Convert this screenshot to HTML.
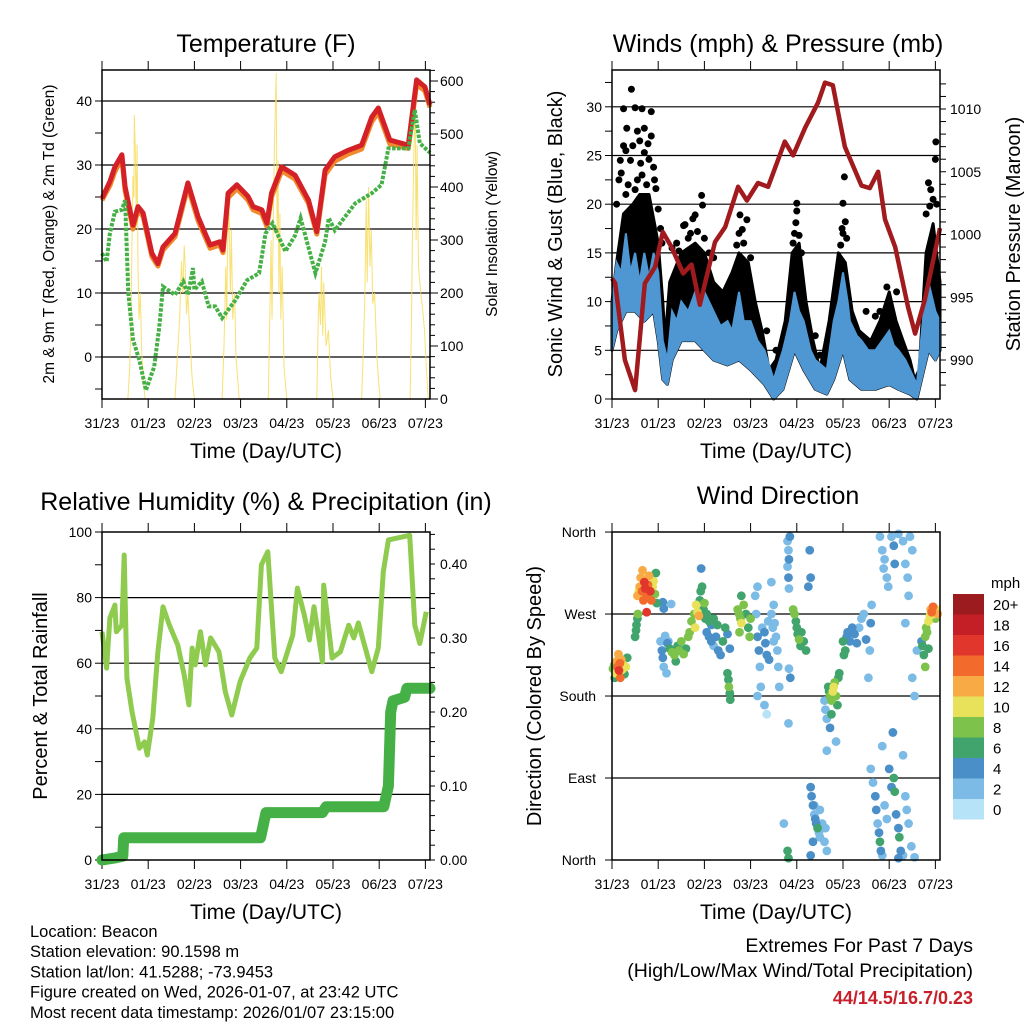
<!DOCTYPE html>
<html><head><meta charset="utf-8"><style>
html,body{margin:0;padding:0;background:#fff;}
svg{display:block;font-family:"Liberation Sans",sans-serif;}
</style></head><body>
<svg id="root" width="1024" height="1024" viewBox="0 0 1024 1024" xmlns="http://www.w3.org/2000/svg"></svg>
<script>
// ---------- DATA ----------
const dayTickLabels = ["31/23","01/23","02/23","03/23","04/23","05/23","06/23","07/23"];
// Temperature panel
const temp2m = [[0,24.8],[0.17,27.4],[0.28,29.7],[0.43,31.6],[0.5,26.6],[0.67,20.6],[0.78,23.5],[0.89,22.5],[1.08,16.2],[1.21,14.6],[1.32,17.2],[1.58,19.3],[1.86,27.2],[2.08,21.9],[2.34,17.5],[2.55,18.0],[2.62,16.7],[2.73,25.6],[2.92,26.9],[3.16,25.1],[3.27,23.5],[3.46,23.0],[3.57,20.9],[3.67,25.6],[3.89,29.7],[4.18,28.4],[4.47,24.5],[4.65,19.6],[4.83,29.2],[5.04,31.3],[5.33,32.3],[5.62,33.1],[5.84,37.5],[5.98,38.9],[6.23,33.9],[6.63,33.1],[6.81,43.3],[6.99,42.2],[7.1,39.4]];
const temp9m = [[0,24.5],[0.17,26.8],[0.28,29.0],[0.43,31.0],[0.5,26.0],[0.67,20.0],[0.78,22.9],[0.89,22.0],[1.08,15.7],[1.21,14.2],[1.32,16.7],[1.58,18.8],[1.86,26.6],[2.08,21.3],[2.34,17.0],[2.55,17.5],[2.62,16.3],[2.73,24.9],[2.92,26.3],[3.16,24.5],[3.27,23.0],[3.46,22.4],[3.57,20.4],[3.67,25.0],[3.89,29.1],[4.18,27.8],[4.47,24.0],[4.65,19.2],[4.83,28.5],[5.04,30.6],[5.33,31.7],[5.62,32.5],[5.84,36.8],[5.98,38.2],[6.23,33.3],[6.63,32.6],[6.81,42.6],[6.99,41.6],[7.1,39.0]];
const dewpoint = [[0,16.2],[0.1,14.9],[0.17,19.3],[0.28,22.7],[0.43,23.0],[0.5,24.5],[0.57,10],[0.67,2.7],[0.81,-0.5],[0.95,-5.2],[1.13,-1.5],[1.24,4.7],[1.32,11],[1.58,9.7],[1.76,11.8],[1.86,9.7],[1.97,13.9],[2.0,10.5],[2.16,11.8],[2.31,7.9],[2.45,7.9],[2.6,6.1],[2.89,8.9],[3.14,12],[3.4,13.1],[3.54,19.3],[3.69,20.9],[3.97,16.5],[4.18,19],[4.3,21.7],[4.62,13.1],[4.83,18],[4.91,21.7],[5.04,19.8],[5.48,24],[5.84,25.6],[6.05,26.9],[6.2,32.6],[6.63,32.6],[6.77,38.6],[6.88,33.4],[7.1,31.9]];
const solar = [[0,0],[0.56,0],[0.6,60],[0.63,150],[0.65,300],[0.67,420],[0.69,380],[0.7,536],[0.72,470],[0.74,350],[0.76,480],[0.78,250],[0.8,150],[0.83,200],[0.86,90],[0.9,30],[0.93,0],[1.58,0],[1.62,60],[1.68,150],[1.72,260],[1.75,200],[1.78,290],[1.8,250],[1.83,160],[1.86,200],[1.9,120],[1.95,40],[2.0,0],[2.6,0],[2.64,100],[2.68,250],[2.7,150],[2.72,300],[2.75,360],[2.78,200],[2.8,320],[2.83,150],[2.87,200],[2.9,80],[2.97,0],[3.6,0],[3.64,200],[3.66,300],[3.68,150],[3.72,420],[3.74,510],[3.77,615],[3.79,300],[3.81,450],[3.83,200],[3.85,350],[3.87,150],[3.9,250],[3.94,60],[4.0,0],[4.65,0],[4.68,150],[4.7,200],[4.73,140],[4.75,250],[4.78,120],[4.8,220],[4.85,100],[4.9,130],[4.95,40],[5.0,0],[5.62,0],[5.66,100],[5.69,200],[5.72,380],[5.74,220],[5.77,400],[5.8,250],[5.83,320],[5.86,180],[5.9,200],[5.95,80],[5.99,30],[6.02,0],[6.67,0],[6.7,150],[6.72,300],[6.75,460],[6.78,560],[6.8,300],[6.82,480],[6.85,250],[6.9,200],[6.94,170],[6.98,130],[7.02,60],[7.06,0],[7.1,0]];
// Wind panel
const pressure = [[0,996.5],[0.07,996.1],[0.28,990],[0.5,987.6],[0.71,996.1],[0.93,997.4],[1.1,1000.2],[1.29,999],[1.54,996.9],[1.72,997.6],[1.9,994.4],[2.23,999.4],[2.45,1000.6],[2.73,1003.8],[2.92,1002.7],[3.16,1004.1],[3.38,1003.8],[3.74,1007.4],[3.92,1006.3],[4.18,1008.5],[4.46,1010.5],[4.61,1012.1],[4.78,1011.9],[5.04,1007],[5.4,1003.9],[5.58,1003.7],[5.76,1005],[5.91,1001.2],[6.13,999],[6.41,994.2],[6.56,992.1],[6.77,994.8],[7.1,1000.5]];
const windUpper = [[0,10],[0.05,12],[0.1,14],[0.2,13],[0.3,17],[0.4,13],[0.5,15],[0.6,12],[0.7,15],[0.8,12.5],[0.9,15],[1.0,13],[1.1,6],[1.2,4],[1.3,9],[1.4,8],[1.5,10],[1.65,9],[1.8,11],[1.9,9.5],[2.0,11],[2.2,9],[2.35,7.5],[2.5,8],[2.6,7],[2.75,11],[2.85,8],[3.0,8],[3.15,6],[3.3,5],[3.5,2],[3.7,5],[3.85,8],[3.95,11],[4.05,9],[4.15,8],[4.3,5],[4.4,4],[4.65,3],[4.8,8],[4.9,10],[5.0,13],[5.1,10],[5.15,8],[5.3,6.5],[5.4,6],[5.55,5],[5.7,5],[5.85,6],[6.0,7],[6.1,5.5],[6.2,5],[6.35,4],[6.45,3],[6.6,1.5],[6.75,9],[6.85,12],[6.95,10],[7.0,9],[7.1,8]];
const windLower = [[0,5],[0.1,7],[0.3,9],[0.5,9],[0.7,8],[0.9,9],[1.0,6],[1.1,2],[1.2,1.5],[1.3,4],[1.5,6],[1.8,6],[2.0,5],[2.2,4],[2.5,3.5],[2.75,4],[3.0,3],[3.3,1.5],[3.5,0],[3.7,1],[3.95,5],[4.15,3],[4.4,1],[4.65,0.5],[4.8,2],[5.0,5],[5.15,2],[5.4,1],[5.7,1],[6.0,1.5],[6.2,1],[6.45,0.5],[6.6,0],[6.75,3],[6.85,5],[7.0,4],[7.1,5]];
const gustUpper = [[0,10],[0.1,14],[0.25,19],[0.45,20],[0.6,21],[0.8,21],[1.0,16],[1.1,10],[1.15,6],[1.25,12],[1.5,15],[1.8,16],[2.0,15],[2.2,12],[2.4,11],[2.6,13],[2.75,15],[2.95,14],[3.1,10],[3.25,7],[3.4,3],[3.55,4],[3.75,8],[3.9,15],[4.05,16],[4.2,10],[4.35,6],[4.5,3],[4.7,8],[4.9,15],[5.05,14],[5.2,9],[5.35,7],[5.6,6],[5.8,8],[6.0,11],[6.15,8],[6.3,6],[6.45,4],[6.55,2],[6.65,3],[6.8,15],[6.95,18],[7.1,12]];
const gustDots = [[0.25,29.8],[0.5,29.9],[0.42,31.8],[0.65,29.8],[0.85,29.5],[0.7,27.8],[0.85,27],[0.6,26.5],[0.25,26],[0.3,25.5],[0.4,24.5],[0.7,25.3],[0.8,24.6],[0.9,23.8],[0.15,22.5],[0.2,23.2],[0.35,22],[0.55,22.5],[0.95,21.6],[1.0,19.5],[1.05,17.5],[1.08,16],[0.1,20],[0.3,21],[0.5,21.5],[0.65,23],[0.75,22],[0.45,26],[0.55,27.5],[0.78,26.2],[0.32,27.8],[0.62,24.2],[0.92,22.5],[0.18,24.5],[1.94,20.9],[1.96,19.9],[1.8,18.9],[1.58,17.9],[1.55,17.8],[1.75,18.5],[2.0,16.5],[1.3,15.5],[1.4,16],[2.1,15],[2.2,14.5],[1.65,16.5],[1.85,17.2],[1.7,17],[1.45,15.2],[2.77,18.9],[2.92,18.4],[2.75,17.0],[2.85,16],[2.7,15.8],[3.0,14.5],[2.82,17.4],[4.0,20.1],[4.0,19.3],[3.98,18.1],[3.95,17],[4.05,16.8],[4.1,15],[3.92,16],[5.03,22.8],[5.0,20.1],[5.05,18.2],[5.0,17],[5.08,16.5],[4.95,15.8],[4.98,17.5],[7.01,26.4],[7.0,24.6],[6.85,22.2],[6.9,21.5],[6.95,20.5],[7.03,20],[6.8,19],[6.88,19.8],[6.16,11],[5.8,9],[5.5,9],[3.55,5],[4.5,4.5],[5.95,11.5],[5.7,8.5],[3.35,7],[4.4,6.5]];
// RH panel
const relHumidity = [[0,69.6],[0.1,58.5],[0.17,73.8],[0.28,77.7],[0.31,69.6],[0.43,71.6],[0.48,93],[0.54,55.5],[0.65,45.2],[0.81,34.1],[0.92,36],[0.98,32],[1.1,43.3],[1.21,63.5],[1.32,77.2],[1.46,71.6],[1.64,65.5],[1.78,56.4],[1.88,47.3],[1.95,64.6],[2.02,59.5],[2.13,69.6],[2.24,59.5],[2.35,67.7],[2.53,63.5],[2.67,51.3],[2.81,44.2],[2.99,54.4],[3.2,61.6],[3.35,64.6],[3.45,90],[3.59,94],[3.74,61.6],[3.88,57.4],[4.13,68.6],[4.23,82.9],[4.38,74.7],[4.49,67.1],[4.59,77.2],[4.77,60.4],[4.8,83.8],[4.98,61.6],[5.16,63.5],[5.34,71.6],[5.45,67.7],[5.55,72.3],[5.84,57.4],[5.98,64.6],[6.09,87.9],[6.2,97.6],[6.66,99],[6.77,71.6],[6.88,66],[7.02,75.7]];
const precip = [[0,0],[0.3,0.003],[0.45,0.005],[0.47,0.03],[3.43,0.03],[3.55,0.064],[4.77,0.064],[4.85,0.072],[6.1,0.072],[6.2,0.1],[6.25,0.2],[6.3,0.215],[6.55,0.22],[6.6,0.232],[7.1,0.232]];
// Wind direction panel: [time(days), direction(deg), speed(mph)]
const windDirObs = [[0.02,210,8],[0.05,214,9],[0.08,205,10],[0.1,218,12],[0.12,212,15],[0.15,208,16],[0.17,216,14],[0.2,220,13],[0.22,209,10],[0.25,214,11],[0.27,204,7],[0.3,212,10],[0.33,222,6],[0.06,200,6],[0.14,226,12],[0.18,200,14],
[0.5,245,6],[0.52,252,6],[0.53,258,6],[0.55,265,7],[0.56,270,8],
[0.55,290,12],[0.6,300,12],[0.62,310,13],[0.65,295,15],[0.68,285,14],[0.7,305,16],[0.72,298,17],[0.75,290,15],[0.78,302,14],[0.8,312,12],[0.83,295,16],[0.85,285,14],[0.88,300,11],[0.9,306,10],[0.93,292,9],[0.95,315,7],[0.97,282,6],[0.58,295,11],[0.66,318,12],[0.75,272,17],
[1.1,283,4],[1.12,276,4],[1.28,281,3],
[1.05,240,3],[1.08,230,4],[1.1,222,4],[1.12,212,3],[1.15,246,2],[1.2,238,4],[1.25,232,6],[1.3,228,8],[1.35,225,8],[1.38,218,7],[1.42,235,6],[1.45,230,9],[1.5,240,8],[1.55,226,9],[1.6,232,7],[1.65,245,8],[1.68,250,9],[1.18,205,2],[1.22,240,3],
[1.72,262,9],[1.78,270,8],[1.82,280,10],[1.85,272,11],[1.88,268,13],[1.9,285,7],[1.92,295,6],[1.95,300,6],[1.93,320,4],[1.98,275,6],[2.02,265,6],[2.05,270,7],[2.1,262,6],[2.15,258,5],[2.2,265,6],[1.8,255,10],[2.0,282,8],
[2.05,250,4],[2.1,245,4],[2.15,240,5],[2.2,235,3],[2.25,245,4],[2.3,230,5],[2.35,225,4],[2.4,240,7],[2.45,255,6],[2.5,248,5],[2.55,232,4],[2.28,258,6],
[2.5,205,6],[2.52,198,7],[2.53,190,8],[2.55,183,6],[2.56,176,7],
[2.72,275,8],[2.75,270,9],[2.78,265,8],[2.8,260,10],[2.85,280,8],[2.9,270,7],[2.95,255,7],[3.0,265,8],[2.98,245,9],[2.76,250,8],[2.8,290,6],
[3.1,290,2],[3.12,270,3],[3.15,300,2],[3.15,245,4],[3.18,230,4],[3.2,212,3],[3.22,190,2],[3.25,255,3],[3.3,250,4],[3.32,238,4],[3.35,225,4],[3.4,220,5],[3.38,262,3],[3.45,270,2],[3.48,255,2],[3.5,240,2],[3.52,260,3],[3.55,245,2],[3.58,230,2],[3.6,212,2],[3.45,305,2],[3.5,280,2],[3.62,190,2],[3.3,170,2],[3.35,160,1],[3.15,180,3],
[3.8,350,3],[3.82,340,3],[3.83,330,4],[3.8,322,3],[3.82,310,4],[3.83,298,3],[3.85,355,4],[3.86,200,4],[3.82,150,2],[3.83,210,3],
[3.92,275,8],[3.95,270,9],[3.98,262,7],[4.0,255,6],[4.02,248,6],[4.05,242,8],[4.08,235,7],[4.1,250,6],[4.15,240,6],[4.2,230,7],[4.25,300,4],[4.3,310,4],[4.28,340,4],
[4.3,80,4],[4.32,70,4],[4.35,60,4],[4.38,50,3],[4.4,45,4],[4.42,40,5],[4.45,35,6],[4.48,30,3],[4.5,25,3],[4.55,40,2],[4.6,20,2],[4.65,10,2],[4.35,20,4],[4.3,5,5],[4.38,60,2],[4.5,55,2],[4.62,35,3],[3.82,2,6],[3.8,10,6],[3.72,40,3],
[4.6,175,3],[4.62,165,3],[4.65,155,2],[4.68,190,6],[4.7,185,7],[4.72,180,8],[4.75,175,9],[4.78,185,10],[4.8,190,11],[4.82,195,9],[4.85,180,8],[4.88,170,7],[4.9,200,7],[4.92,205,6],[4.75,160,6],[4.72,145,4],[4.65,120,2],[4.85,130,3],
[5.0,240,6],[5.02,225,7],[5.05,230,6],[5.08,245,5],[5.1,250,4],[5.15,240,4],[5.2,255,4],[5.25,248,4],[5.3,238,4],[5.35,255,3],[5.4,265,3],[5.45,270,3],[5.5,242,4],[5.55,200,3],[5.6,260,4],[5.62,280,3],[5.58,230,2],
[5.6,100,2],[5.65,85,3],[5.7,70,4],[5.72,55,4],[5.75,40,3],[5.78,30,4],[5.8,20,6],[5.82,10,4],[5.85,5,2],[5.9,60,3],[5.95,45,2],[6.0,100,4],[6.05,80,5],[6.1,90,6],[6.12,75,6],[6.15,50,4],[6.2,35,5],[6.22,25,6],[6.25,10,4],[6.3,5,3],[6.35,70,3],[6.38,55,2],[6.42,40,2],[6.48,15,2],[6.55,3,2],[6.2,2,4],[5.85,125,2],[6.08,140,4],[6.3,115,2],
[5.8,355,2],[5.85,340,3],[5.88,320,3],[5.9,330,2],[5.95,310,3],[5.98,300,3],[6.05,355,3],[6.1,345,4],[6.12,325,4],[6.2,358,3],[6.3,350,2],[6.35,325,3],[6.4,310,2],[6.42,290,3],[6.45,355,2],[6.5,340,2],[6.35,260,3],[6.5,200,2],[6.55,180,2],[6.6,230,3],
[6.7,240,5],[6.72,235,6],[6.75,225,7],[6.78,245,8],[6.8,255,9],[6.82,250,8],[6.85,262,10],[6.88,268,11],[6.9,275,12],[6.92,272,14],[6.95,278,15],[6.98,270,10],[7.0,265,9],[7.02,275,11],[7.05,270,12],[6.85,232,7],[6.78,212,8]];
const speedBinLabels = ["20+","18","16","14","12","10","8","6","4","2","0"];
const speedBinColors = ["#9b1b1e","#c41e27","#e0362b","#f26a2c","#f8ab45","#e7e25a","#7dc24a","#41a46c","#4a8fc7","#7bbbe6","#b6e3f8"];

// ---------- RENDER ----------
const NS="http://www.w3.org/2000/svg";
const root=document.getElementById('root');
function el(tag,attrs,parent,text){const e=document.createElementNS(NS,tag);for(const k in attrs)e.setAttribute(k,attrs[k]);if(text!==undefined)e.textContent=text;(parent||root).appendChild(e);return e;}
const TMAX=7.1;
function xs(L,R){return t=>L+t*(R-L)/TMAX;}
function pathFrom(pts,fx,fy){return pts.map((p,i)=>(i?'L':'M')+fx(p[0]).toFixed(1)+','+fy(p[1]).toFixed(1)).join('');}

function frame(L,R,T,B,name){
  const g=el('g',{});
  
  
  const fx=xs(L,R);
  for(let i=0;i<8;i++){const x=fx(i);
    el('line',{x1:x,x2:x,y1:T,y2:T-9,stroke:'#000','stroke-width':1},g);
    el('line',{x1:x,x2:x,y1:B,y2:B+9,stroke:'#000','stroke-width':1},g);
    const t=el('text',{x:x,y:B+29,'font-size':14,'text-anchor':'middle'},g,dayTickLabels[i]);
    
    
  }
  const xt=el('text',{x:(L+R)/2,y:B+59,'font-size':21,'text-anchor':'middle'},g,'Time (Day/UTC)');
  
  
  return {g,fx};
}
function border(L,R,T,B,g){el('rect',{x:L,y:T,width:R-L,height:B-T,fill:'none',stroke:'#000','stroke-width':1.5},g);}
function hgrid(L,R,y,g){el('line',{x1:L,x2:R,y1:y,y2:y,stroke:'#000','stroke-width':1.2},g);}
function leftTicks(L,vals,fy,g,labels,len){vals.forEach((v,i)=>{const y=fy(v);el('line',{x1:L,x2:L-(len||7),y1:y,y2:y,stroke:'#000','stroke-width':1},g);if(labels&&labels[i]!==null){el('text',{x:L-10,y:y+5,'font-size':14,'text-anchor':'end'},g,labels[i]);}});}
function rightTicks(R,vals,fy,g,labels,len){vals.forEach((v,i)=>{const y=fy(v);el('line',{x1:R,x2:R+(len||7),y1:y,y2:y,stroke:'#000','stroke-width':1},g);if(labels&&labels[i]!==null){el('text',{x:R+10,y:y+5,'font-size':14,'text-anchor':'start'},g,labels[i]);}});}
function title(x,y,txt,name){const t=el('text',{x:x,y:y,'font-size':25,'text-anchor':'middle'},root,txt);}
function ytitle(x,y,txt,size,name){const t=el('text',{x:0,y:0,'font-size':size,'text-anchor':'middle',transform:`translate(${x},${y}) rotate(-90)`},root,txt);}
function range(a,b,s){const r=[];for(let v=a;v<=b+1e-9;v+=s)r.push(+v.toFixed(4));return r;}

// ===== Panel 1: Temperature =====
(function(){
  const L=102,R=430,T=70,B=399;
  const {g,fx}=frame(L,R,T,B,'temperature');
  const fy=v=>357-v*6.4, fs=v=>399-v*0.53;
  [0,10,20,30,40].forEach(v=>hgrid(L,R,fy(v),g));
  leftTicks(L,range(-5,40,5),fy,g,range(-5,40,5).map(v=>v%10===0?String(v):null));
  rightTicks(R,range(0,620,20),fs,g,range(0,620,20).map(v=>v%100===0?String(v):null),5);
  rightTicks(R,range(0,600,100),fs,g,null,8);
  const sp=el('path',{d:pathFrom(solar,fx,fs),fill:'none',stroke:'#f7dc5a','stroke-width':1,'stroke-opacity':0.85});
  
  
  const o=el('path',{d:pathFrom(temp9m,fx,fy),fill:'none',stroke:'#f08a2c','stroke-width':5,'stroke-linejoin':'round'});
  
  
  const r=el('path',{d:pathFrom(temp2m,fx,fy),fill:'none',stroke:'#d42027','stroke-width':5,'stroke-linejoin':'round'});
  
  
  const d=el('path',{d:pathFrom(dewpoint,fx,fy),fill:'none',stroke:'#45b045','stroke-width':4,'stroke-dasharray':'3.5 1.5'});
  
  
  border(L,R,T,B,root);
  title(266,52,'Temperature (F)','temperature-title');
  ytitle(54,234,'2m & 9m T (Red, Orange) & 2m Td (Green)',15.5,'temperature-y-axis-title');
  ytitle(497,234,'Solar Insolation (Yellow)',15.5,'solar-y-axis-title');
})();

// ===== Panel 2: Winds =====
(function(){
  const L=612,R=940,T=70,B=399;
  const {g,fx}=frame(L,R,T,B,'winds');
  const fy=v=>399-v*9.74, fp=p=>360-(p-990)*12.55;
  [5,10,15,20,25,30].forEach(v=>hgrid(L,R,fy(v),g));
  leftTicks(L,range(0,32.5,2.5),fy,g,range(0,32.5,2.5).map(v=>v%5===0?String(v):null));
  rightTicks(R,range(988,1012,1),fp,g,range(988,1012,1).map(v=>v%5===0?String(v):null),6);
  const bandPath=(up,lo,f)=>pathFrom(up,fx,f)+pathFrom(lo.slice().reverse(),fx,f).replace('M','L')+'Z';
  const gb=el('path',{d:bandPath(gustUpper,windLower,fy),fill:'#000',stroke:'#000','stroke-width':3,'stroke-linejoin':'round'});
  
  
  gustDots.forEach(p=>{const c=el('circle',{cx:fx(p[0]),cy:fy(p[1]),r:3.5,fill:'#000'});
    
    });
  const wb=el('path',{d:bandPath(windUpper,windLower,fy),fill:'#4f97d3',stroke:'#4f97d3','stroke-width':2});
  
  
  const pp=el('path',{d:pathFrom(pressure,fx,fp),fill:'none',stroke:'#a11a1e','stroke-width':4.5,'stroke-linejoin':'round'});
  
  
  border(L,R,T,B,root);
  title(778,52,'Winds (mph) & Pressure (mb)','winds-title');
  ytitle(562,234,'Sonic Wind & Gust (Blue, Black)',20,'wind-y-axis-title');
  ytitle(1020,234,'Station Pressure (Maroon)',20,'pressure-y-axis-title');
})();

// ===== Panel 3: RH & Precip =====
(function(){
  const L=102,R=430,T=532,B=860;
  const {g,fx}=frame(L,R,T,B,'humidity');
  const fy=v=>860-v*3.28, fr=v=>860-v*740;
  [20,40,60,80].forEach(v=>hgrid(L,R,fy(v),g));
  leftTicks(L,range(0,100,10),fy,g,range(0,100,10).map(v=>v%20===0?String(v):null));
  rightTicks(R,range(0,0.44,0.02),fr,g,range(0,0.44,0.02).map(v=>Math.round(v*100)%10===0?v.toFixed(2):null),5);
  const rh=el('path',{d:pathFrom(relHumidity,fx,fy),fill:'none',stroke:'#8fcb4f','stroke-width':5,'stroke-linejoin':'round'});
  
  
  const pr=el('path',{d:pathFrom(precip,fx,fr),fill:'none',stroke:'#45b045','stroke-width':11,'stroke-linejoin':'round','stroke-linecap':'round'});
  
  
  border(L,R,T,B,root);
  title(266,510,'Relative Humidity (%) & Precipitation (in)','humidity-title');
  ytitle(47,696,'Percent & Total Rainfall',20,'humidity-y-axis-title');
})();

// ===== Panel 4: Wind Direction =====
(function(){
  const L=612,R=940,T=532,B=860;
  const {g,fx}=frame(L,R,T,B,'wind-direction');
  const fy=d=>860-d*0.911;
  [90,180,270].forEach(v=>hgrid(L,R,fy(v),g));
  const dirTicks=[0,90,180,270,360], dirLabels=['North','East','South','West','North'];
  dirTicks.forEach((v,i)=>{const y=fy(v);el('line',{x1:L,x2:L-7,y1:y,y2:y,stroke:'#000'},g);el('text',{x:L-16,y:y+5,'font-size':14,'text-anchor':'end'},g,dirLabels[i]);});
  const sorted=windDirObs.slice().sort((a,b)=>a[2]-b[2]);
  sorted.forEach(p=>{const bin=Math.min(10,Math.floor(p[2]/2));const col=speedBinColors[10-bin];
    const c=el('circle',{cx:fx(p[0]),cy:fy(p[1]),r:4.4,fill:col});
    
    });
  border(L,R,T,B,root);
  title(778,504,'Wind Direction','wind-direction-title');
  ytitle(541,696,'Direction (Colored By Speed)',20,'direction-y-axis-title');
  const lg=el('g',{});
  
  
  el('text',{x:991,y:588,'font-size':15},lg,'mph');
  speedBinLabels.forEach((lab,i)=>{const y=594+i*20.5;
    el('rect',{x:953,y:y,width:31,height:20.5,fill:speedBinColors[i]},lg);
    el('text',{x:993,y:y+16,'font-size':15},lg,lab);});
})();

// ===== Footer text =====
const infoLines=['Location: Beacon','Station elevation: 90.1598 m','Station lat/lon: 41.5288; -73.9453','Figure created on Wed, 2026-01-07, at 23:42 UTC','Most recent data timestamp: 2026/01/07 23:15:00'];
infoLines.forEach((s,i)=>{const t=el('text',{x:30,y:937+i*20.2,'font-size':16.5},root,s);
  
  });
const e1=el('text',{x:973,y:952,'font-size':19.5,'text-anchor':'end'},root,'Extremes For Past 7 Days');


const e2=el('text',{x:973,y:977,'font-size':19.5,'text-anchor':'end'},root,'(High/Low/Max Wind/Total Precipitation)');


const e3=el('text',{x:973,y:1004,'font-size':18,'text-anchor':'end','font-weight':'bold',fill:'#c8202a'},root,'44/14.5/16.7/0.23');


</script>
</body></html>
